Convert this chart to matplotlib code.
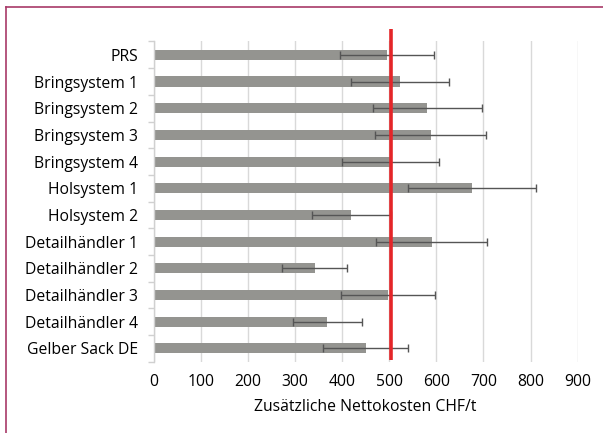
import matplotlib
matplotlib.use("Agg")
import matplotlib.pyplot as plt
import numpy as np
from matplotlib.lines import Line2D

plt.rcParams['font.family'] = ['Open Sans', 'DejaVu Sans']

categories = ["PRS", "Bringsystem 1", "Bringsystem 2", "Bringsystem 3", "Bringsystem 4",
              "Holsystem 1", "Holsystem 2", "Detailhändler 1", "Detailhändler 2",
              "Detailhändler 3", "Detailhändler 4", "Gelber Sack DE"]
values = [495, 522, 581, 588, 502, 676, 420, 590, 342, 498, 369, 450]
errors = [100, 104, 116, 118, 103, 135, 83, 118, 69, 100, 74, 90]
threshold = 504
xticks = [0, 100, 200, 300, 400, 500, 600, 700, 800, 900]
xlabel = "Zusätzliche Nettokosten CHF/t"

FS = 11.3

fig = plt.figure(figsize=(6.03, 4.33), dpi=100)
ax = fig.add_axes([153.5/603, 1-361.7/433, (577.7-153.5)/603, (361.7-41.5)/433])

y = np.arange(len(categories))
ax.barh(y, values, height=0.38, color='#949490', zorder=2)
ax.errorbar(values, y, xerr=errors, fmt='none', ecolor='#555555', elinewidth=1.0,
            capsize=3, capthick=1.0, zorder=3)

ax.set_xlim(0, 900)
ax.set_ylim(len(categories) - 0.5, -0.5)
ax.set_xticks(xticks)
ax.set_xticklabels([str(t) for t in xticks], fontsize=FS)
ax.set_yticks(y)
ax.set_yticklabels(categories, fontsize=FS)
ax.set_yticks(np.arange(len(categories) + 1) - 0.5, minor=True)
ax.tick_params(axis='y', which='major', length=0, pad=11)
ax.tick_params(axis='y', which='minor', length=4, color='#d0d0d0', width=1)
ax.tick_params(axis='x', length=0, pad=8.5)
ax.grid(axis='x', color='#d9d9d9', linewidth=1, zorder=0)
ax.set_axisbelow(True)
for s in ['top', 'right', 'bottom']:
    ax.spines[s].set_visible(False)
ax.spines['left'].set_color('#d0d0d0')
ax.spines['left'].set_linewidth(1)
ax.set_xlabel(xlabel, fontsize=FS, labelpad=7)

ax.plot([threshold, threshold], [len(categories) - 0.55, -0.97], color='#e42528',
        linewidth=2.6, clip_on=False, zorder=5, solid_capstyle='butt')

# frame border
fig.add_artist(Line2D([6/603, 1], [1-7/433, 1-7/433], color='#a83a68', linewidth=1.2,
                      transform=fig.transFigure))
fig.add_artist(Line2D([6/603, 6/603], [0, 1-7/433], color='#a83a68', linewidth=1.2,
                      transform=fig.transFigure))

fig.savefig("out.png", dpi=100)
